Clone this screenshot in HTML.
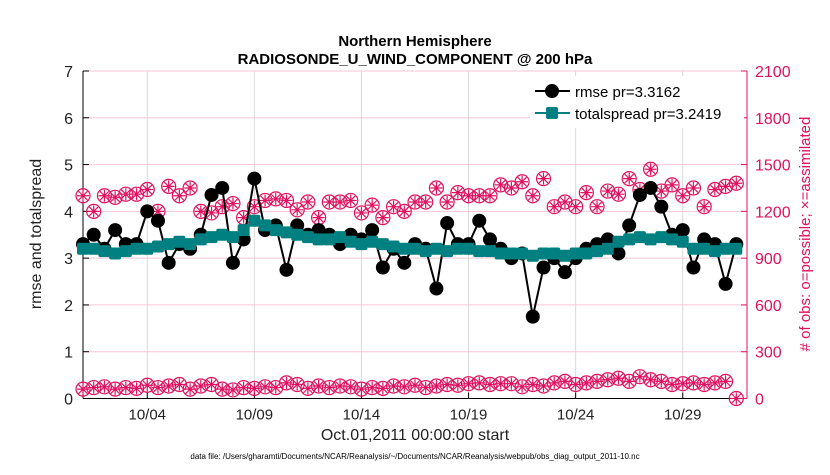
<!DOCTYPE html>
<html><head><meta charset="utf-8"><style>
body{margin:0;background:#fff;font-family:"Liberation Sans",sans-serif}
svg text{font-family:"Liberation Sans",sans-serif}
</style></head><body>
<svg id="chart" width="830" height="470"></svg>
<script>
const tickDays=[3,8,13,18,23,28];
const tickLabels=["10/04","10/09","10/14","10/19","10/24","10/29"];
const leftTicks=[0,1,2,3,4,5,6,7];
const rightTicks=[0,300,600,900,1200,1500,1800,2100];
const obsPossible=[1300,1200,1300,1290,1310,1310,1340,1200,1360,1300,1350,1200,1190,1230,1250,1160,1230,1270,1280,1270,1210,1260,1160,1260,1260,1270,1190,1240,1160,1230,1200,1260,1260,1350,1260,1320,1300,1300,1300,1370,1350,1390,1300,1410,1230,1260,1230,1320,1230,1330,1310,1410,1340,1470,1330,1370,1300,1350,1230,1340,1360,1380];
const obsAssim=[60,70,75,60,70,65,85,70,80,90,60,80,90,60,55,70,65,75,70,100,90,65,80,70,80,75,60,70,65,80,75,85,70,80,90,85,95,100,90,95,95,75,90,80,100,110,90,100,110,120,130,110,140,120,110,90,95,100,90,100,110,0];
const rmse=[3.3,3.5,3.2,3.6,3.3,3.3,4.0,3.8,2.9,3.3,3.2,3.5,4.35,4.5,2.9,3.4,4.7,3.6,3.7,2.75,3.7,3.5,3.6,3.5,3.3,3.5,3.4,3.6,2.8,3.2,2.9,3.3,3.2,2.35,3.75,3.3,3.3,3.8,3.4,3.2,3.0,3.1,1.75,2.8,3.0,2.7,3.0,3.2,3.3,3.4,3.1,3.7,4.35,4.5,4.1,3.5,3.6,2.8,3.4,3.3,2.45,3.3];
const spread=[3.2,3.2,3.15,3.1,3.15,3.2,3.2,3.25,3.3,3.35,3.3,3.4,3.45,3.5,3.45,3.6,3.8,3.7,3.6,3.55,3.5,3.45,3.4,3.4,3.45,3.35,3.3,3.35,3.3,3.25,3.2,3.2,3.15,3.2,3.15,3.2,3.2,3.15,3.15,3.1,3.1,3.1,3.05,3.1,3.1,3.05,3.1,3.1,3.15,3.2,3.35,3.4,3.45,3.4,3.45,3.4,3.35,3.2,3.2,3.15,3.2,3.2];
</script>
<script>
const svg=document.getElementById('chart');const NS='http://www.w3.org/2000/svg';
const X0=83,X1=747,Y0=398.5,Y1=71;
const xs=d=>X0+(X1-X0)*d/31;
const yl=v=>Y0-(Y0-Y1)*v/7;
const yr=v=>Y0-(Y0-Y1)*v/2100;
function mk(t,a,p){const e=document.createElementNS(NS,t);for(const k in a)e.setAttribute(k,a[k]);(p||svg).appendChild(e);return e;}
function tx(s,a){const e=mk('text',a);e.textContent=s;return e;}
for(const d of tickDays){const g=mk('line',{x1:xs(d),x2:xs(d),y1:Y1,y2:Y0,stroke:'#d8d8d8','stroke-width':1});

}
for(const v of leftTicks){const g=mk('line',{x1:X0,x2:X1,y1:yl(v),y2:yl(v),stroke:'#f4c6d6','stroke-width':1});

}
const ax=mk('line',{x1:X0,x2:X0,y1:Y1,y2:Y0,stroke:'#000'});
const bx=mk('line',{x1:X0,x2:X1,y1:Y0,y2:Y0,stroke:'#000'});
const rx=mk('line',{x1:X1,x2:X1,y1:Y1,y2:Y0,stroke:'#e0115f'});
leftTicks.forEach(v=>{mk('line',{x1:X0,x2:X0+6,y1:yl(v),y2:yl(v),stroke:'#000'});
const t=tx(String(v),{x:X0-10,y:yl(v)+6,'text-anchor':'end','font-size':16,fill:'#222'});

});
rightTicks.forEach(v=>{mk('line',{x1:X1-6,x2:X1,y1:yr(v),y2:yr(v),stroke:'#e0115f'});
const t=tx(String(v),{x:X1+8,y:yr(v)+6,'font-size':16,fill:'#e0115f'});

});
tickDays.forEach((d,i)=>{mk('line',{x1:xs(d),x2:xs(d),y1:Y0,y2:Y0-6,stroke:'#000'});
const t=tx(tickLabels[i],{x:xs(d),y:Y0+21,'text-anchor':'middle','font-size':15,fill:'#222'});

});
function obsMarker(i,v){const cx=xs(i*31/62),cy=yr(v);
const c=mk('circle',{cx,cy,r:7,fill:'none',stroke:'#e0115f','stroke-width':1.2});


const p=mk('path',{d:`M${cx-6} ${cy}H${cx+6}M${cx} ${cy-6}V${cy+6}M${cx-4.5} ${cy-4.5}L${cx+4.5} ${cy+4.5}M${cx-4.5} ${cy+4.5}L${cx+4.5} ${cy-4.5}`,stroke:'#e0115f','stroke-width':1.2});

}
obsPossible.forEach((v,i)=>obsMarker(i,v));
obsAssim.forEach((v,i)=>obsMarker(i,v));
const rp=mk('polyline',{points:rmse.map((v,i)=>xs(i*31/62)+','+yl(v)).join(' '),fill:'none',stroke:'#000','stroke-width':2});


rmse.forEach((v,i)=>{const c=mk('circle',{cx:xs(i*31/62),cy:yl(v),r:7,fill:'#000'});

});
const sp=mk('polyline',{points:spread.map((v,i)=>xs(i*31/62)+','+yl(v)).join(' '),fill:'none',stroke:'#008080','stroke-width':2});


spread.forEach((v,i)=>{const r=mk('rect',{x:xs(i*31/62)-6,y:yl(v)-6,width:12,height:12,rx:2,fill:'#008080'});

});
const lg=mk('g',{});
mk('rect',{x:530,y:76,width:214,height:52,fill:'#fff'},lg);
mk('line',{x1:535,x2:570,y1:91,y2:91,stroke:'#000','stroke-width':2},lg);
mk('circle',{cx:552,cy:91,r:7,fill:'#000'},lg);
mk('line',{x1:535,x2:570,y1:113,y2:113,stroke:'#008080','stroke-width':2},lg);
mk('rect',{x:546,y:107,width:12,height:12,rx:2,fill:'#008080'},lg);
const l1=mk('text',{x:575,y:97,'font-size':15,fill:'#000'},lg);l1.textContent='rmse pr=3.3162';

const l2=mk('text',{x:575,y:119,'font-size':15,fill:'#000'},lg);l2.textContent='totalspread pr=3.2419';

let t;
t=tx('Northern Hemisphere',{x:415,y:46,'text-anchor':'middle','font-size':15,'font-weight':'bold'});
t=tx('RADIOSONDE_U_WIND_COMPONENT @ 200 hPa',{x:415,y:64,'text-anchor':'middle','font-size':15,'font-weight':'bold'});
t=tx('Oct.01,2011 00:00:00 start',{x:415,y:440,'text-anchor':'middle','font-size':16,fill:'#222'});
t=tx('rmse and totalspread',{x:0,y:0,'text-anchor':'middle','font-size':16,fill:'#222',transform:'translate(41,234) rotate(-90)'});
t=tx('# of obs: o=possible; \u00d7=assimilated',{x:0,y:0,'text-anchor':'middle','font-size':15,fill:'#e0115f',transform:'translate(810,234) rotate(-90)'});
t=tx('data file: /Users/gharamti/Documents/NCAR/Reanalysis/~/Documents/NCAR/Reanalysis/webpub/obs_diag_output_2011-10.nc',{x:415,y:459,'text-anchor':'middle','font-size':8,fill:'#000'});
</script>
</body></html>
